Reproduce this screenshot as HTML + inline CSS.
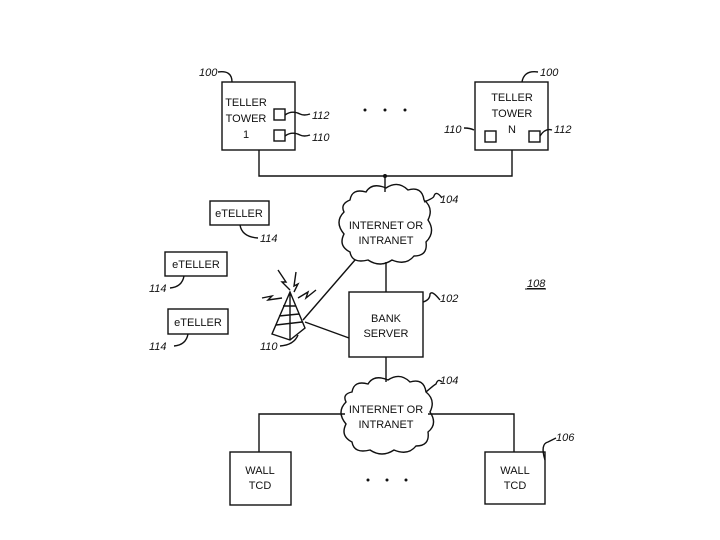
<!DOCTYPE html>
<html><head><style>
html,body{margin:0;padding:0;background:#fff;}
svg{display:block;}
text{font-family:"Liberation Sans",sans-serif;font-size:11px;fill:#111;}
.l{font-style:italic;font-size:11px;}
</style></head><body>
<svg width="720" height="540" viewBox="0 0 720 540" xmlns="http://www.w3.org/2000/svg">
<g fill="none" stroke="#111" stroke-width="1.4">
<rect x="222" y="82" width="73" height="68"/>
<rect x="475" y="82" width="73" height="68"/>
<rect x="274" y="109" width="11" height="11"/>
<rect x="274" y="130" width="11" height="11"/>
<rect x="485" y="131" width="11" height="11"/>
<rect x="529" y="131" width="11" height="11"/>
<path d="M259 150V176H512V150M385 176V192"/>
<rect x="210" y="201" width="59" height="24"/>
<rect x="165" y="252" width="62" height="24"/>
<rect x="168" y="309" width="60" height="25"/>
<rect x="349" y="292" width="74" height="65"/>
<rect x="230" y="452" width="61" height="53"/>
<rect x="485" y="452" width="60" height="52"/>
<path d="M386 262V292M386 357V382"/>
<path d="M345 414H259V452M428 414H514V452"/>
<path d="M303 320L355 260M305 322L349 338"/>
<!-- clouds -->
<path d="M350 200Q352 188 366 192Q372 182 386 188Q398 180 408 190Q422 186 424 200Q434 208 428 220Q436 232 426 242Q428 256 414 256Q406 266 392 260Q380 268 368 260Q352 264 350 252Q338 246 344 234Q334 222 344 212Q340 204 350 200Z"/>
<path d="M352 392Q354 380 368 384Q374 374 388 380Q400 372 410 382Q424 378 426 392Q436 400 430 412Q438 424 428 432Q430 446 416 446Q408 456 394 450Q382 458 370 450Q354 454 352 442Q340 436 346 424Q336 412 346 402Q342 394 352 392Z"/>
<!-- tower -->
<path d="M290 292L272 334L290 340L305 328Z M290 292L290 340 M283 306L296 306 M279 316L299 314 M276 325L302 322"/>
<path d="M262 298L272 296L268 300L282 298M278 270L286 282L282 282L290 290M296 272L294 286L298 284L294 292M298 298L308 292L306 298L316 290"/>
<!-- leader curves -->
<path d="M218 72Q232 70 232 82M285 115Q292 110 300 114Q304 116 310 114M285 136Q292 131 300 135Q304 137 310 135M538 72Q524 70 522 82M474 130Q470 128 464 128M540 136Q545 128 552 130"/>
<path d="M240 225Q242 237 258 238M184 276Q182 287 170 288M188 334Q186 345 174 346M298 335Q294 345 280 346"/>
<path d="M423 302Q430 300 430 294Q432 290 440 300"/>
<path d="M424 202Q434 198 434 196Q436 190 442 198"/>
<path d="M426 392Q434 385 436 384Q438 378 442 382"/>
<path d="M545 460Q540 444 548 442Q552 440 556 438"/>
</g>
<g fill="#111"><circle cx="385" cy="176" r="2"/>
<circle cx="365" cy="110" r="1.5"/><circle cx="385" cy="110" r="1.5"/><circle cx="405" cy="110" r="1.5"/>
<circle cx="368" cy="480" r="1.5"/><circle cx="387" cy="480" r="1.5"/><circle cx="406" cy="480" r="1.5"/></g>
<g text-anchor="middle">
<text x="246" y="106">TELLER</text><text x="246" y="122">TOWER</text><text x="246" y="138">1</text>
<text x="512" y="101">TELLER</text><text x="512" y="117">TOWER</text><text x="512" y="133">N</text>
<text x="239" y="217">eTELLER</text><text x="196" y="268">eTELLER</text><text x="198" y="326">eTELLER</text>
<text x="386" y="229">INTERNET OR</text><text x="386" y="244">INTRANET</text>
<text x="386" y="322">BANK</text><text x="386" y="337">SERVER</text>
<text x="386" y="413">INTERNET OR</text><text x="386" y="428">INTRANET</text>
<text x="260" y="474">WALL</text><text x="260" y="489">TCD</text>
<text x="515" y="474">WALL</text><text x="515" y="489">TCD</text>
</g>
<g class="l">
<text class="l" x="199" y="76">100</text><text class="l" x="540" y="76">100</text>
<text class="l" x="312" y="119">112</text><text class="l" x="312" y="141">110</text>
<text class="l" x="444" y="133">110</text><text class="l" x="554" y="133">112</text>
<text class="l" x="260" y="242">114</text><text class="l" x="149" y="292">114</text><text class="l" x="149" y="350">114</text>
<text class="l" x="260" y="350">110</text>
<text class="l" x="440" y="203">104</text><text class="l" x="440" y="302">102</text><text class="l" x="440" y="384">104</text>
<text class="l" x="556" y="441">106</text>
<text class="l" x="527" y="287" text-decoration="underline">108</text>
</g>
<line x1="525" y1="289" x2="546" y2="289" stroke="#111"/>
</svg>
</body></html>
